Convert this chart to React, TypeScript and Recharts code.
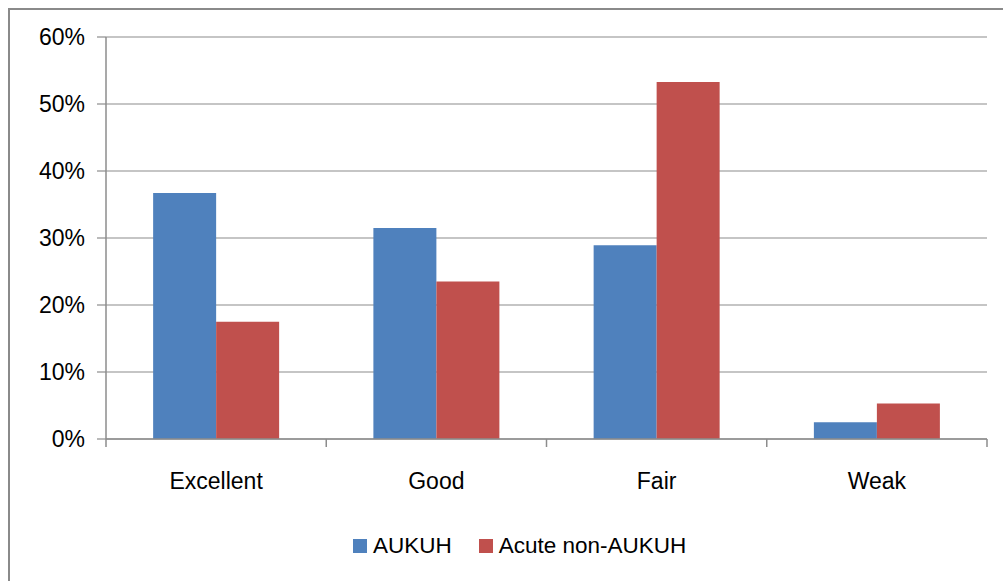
import React from 'react';
import { BarChart, Bar, XAxis, YAxis, CartesianGrid, Legend } from 'recharts';

const categories = ['Excellent', 'Good', 'Fair', 'Weak'];
const aukuh = [36.7, 31.5, 28.9, 2.5];
const acuteNon = [17.5, 23.5, 53.3, 5.3];
const yTicks = [0, 10, 20, 30, 40, 50, 60];
const seriesNames = ['AUKUH', 'Acute non-AUKUH'];
const seriesColors = ['#4F81BD', '#C0504D'];

const data = categories.map((c, i) => ({ name: c, a: aukuh[i], b: acuteNon[i] }));

const FONT = '"Liberation Sans", Arial, sans-serif';

const XTick = (props: any) => {
  const { x, y, payload, width } = props;
  const half = (width || 881) / (2 * categories.length);
  const idx = categories.indexOf(payload.value);
  return (
    <g>
      <line x1={x - half} x2={x - half} y1={y} y2={y + 8} stroke="#8c8c8c" strokeWidth={1.5} />
      {idx === categories.length - 1 && (
        <line x1={x + half} x2={x + half} y1={y} y2={y + 8} stroke="#8c8c8c" strokeWidth={1.5} />
      )}
      <text x={x} y={y + 50} textAnchor="middle" fontSize={23} fontFamily={FONT} fill="#000">
        {payload.value}
      </text>
    </g>
  );
};

const LegendContent = () => (
  <div style={{ display: 'flex', alignItems: 'center', fontFamily: FONT, fontSize: 22.5, color: '#000', lineHeight: '26px' }}>
    {seriesNames.map((n, i) => (
      <div key={n} style={{ display: 'flex', alignItems: 'center', marginRight: i === 0 ? 27 : 0 }}>
        <div style={{ width: 14, height: 14, background: seriesColors[i], marginRight: 6 }} />
        <span>{n}</span>
      </div>
    ))}
  </div>
);

export default function App() {
  return (
    <div style={{ position: 'fixed', left: 0, top: 0, width: 1003, height: 581, background: '#fff', overflow: 'hidden' }}>
      <div
        style={{
          position: 'absolute',
          left: 8,
          top: 8,
          width: 1100,
          height: 700,
          borderLeft: '2px solid #8a8a8a',
          borderTop: '2px solid #8a8a8a',
        }}
      />
      <div style={{ position: 'absolute', left: 0, top: 0 }}>
        <BarChart
          width={1003}
          height={581}
          data={data}
          margin={{ top: 37, right: 16, bottom: 56, left: 0 }}
          barCategoryGap="21.4%"
          barGap={0}
        >
          <CartesianGrid horizontal vertical={false} stroke="#8c8c8c" strokeWidth={1.2} />
          <XAxis
            dataKey="name"
            height={60}
            tick={<XTick />}
            tickLine={false}
            tickSize={0}
            tickMargin={0}
            axisLine={{ stroke: '#8c8c8c', strokeWidth: 1.5 }}
            interval={0}
          />
          <YAxis
            width={106}
            domain={[0, 60]}
            ticks={yTicks}
            interval={0}
            tickFormatter={(v: number) => `${v}%`}
            tickSize={9}
            tickMargin={12}
            tick={{ fontSize: 23, fontFamily: FONT, fill: '#000' }}
            tickLine={{ stroke: '#8c8c8c', strokeWidth: 1.2 }}
            axisLine={{ stroke: '#8c8c8c', strokeWidth: 1.5 }}
          />
          <Legend
            content={<LegendContent />}
            wrapperStyle={{ position: 'absolute', left: 353, top: 533, width: 'auto', height: 26 }}
          />
          <Bar dataKey="a" name={seriesNames[0]} fill={seriesColors[0]} isAnimationActive={false} />
          <Bar dataKey="b" name={seriesNames[1]} fill={seriesColors[1]} isAnimationActive={false} />
        </BarChart>
      </div>
    </div>
  );
}
